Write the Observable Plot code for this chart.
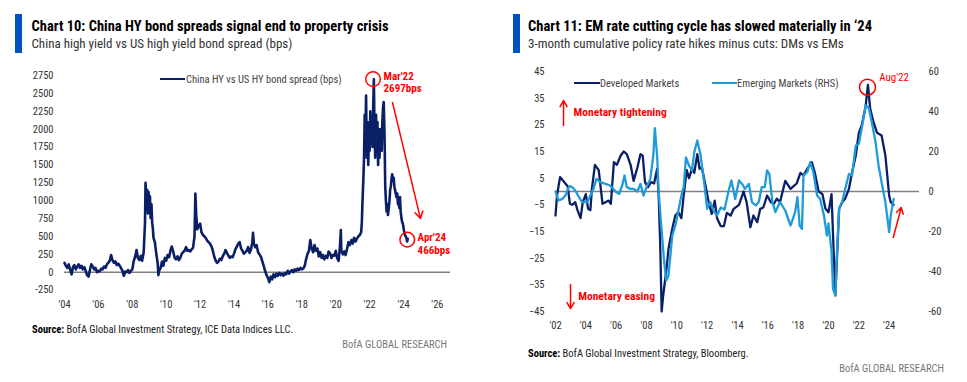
<!DOCTYPE html>
<html><head><meta charset="utf-8">
<script src="https://cdn.jsdelivr.net/npm/d3@7"></script>
<script src="https://cdn.jsdelivr.net/npm/@observablehq/plot@0.6"></script>
<style>
body{margin:0;background:#fff;width:967px;height:382px;position:relative;overflow:hidden}
#left{position:absolute;left:0;top:60px}
#right{position:absolute;left:490px;top:60px}
#overlay{position:absolute;left:0;top:0;pointer-events:none}
</style></head><body>
<div id="left"></div><div id="right"></div>
<svg id="overlay" width="967" height="382"></svg>
<script>
// ---------- DATA ----------
const chinaYears = [2004.00,2004.08,2004.17,2004.25,2004.33,2004.42,2004.50,2004.58,2004.67,2004.75,2004.83,2004.92,2005.00,2005.08,2005.17,2005.25,2005.33,2005.42,2005.50,2005.58,2005.67,2005.75,2005.83,2005.92,2006.00,2006.08,2006.17,2006.25,2006.33,2006.42,2006.50,2006.58,2006.67,2006.75,2006.83,2006.92,2007.00,2007.08,2007.17,2007.25,2007.33,2007.42,2007.50,2007.58,2007.67,2007.75,2007.83,2007.92,2008.00,2008.08,2008.17,2008.25,2008.33,2008.42,2008.50,2008.58,2008.67,2008.75,2008.78,2008.83,2008.88,2008.92,2008.96,2009.00,2009.04,2009.08,2009.13,2009.17,2009.21,2009.25,2009.33,2009.42,2009.50,2009.54,2009.58,2009.67,2009.75,2009.83,2009.92,2010.00,2010.08,2010.17,2010.25,2010.33,2010.42,2010.50,2010.58,2010.67,2010.75,2010.83,2010.92,2011.00,2011.08,2011.17,2011.25,2011.33,2011.42,2011.50,2011.58,2011.67,2011.72,2011.77,2011.83,2011.92,2012.00,2012.08,2012.17,2012.25,2012.33,2012.42,2012.50,2012.58,2012.67,2012.75,2012.83,2012.92,2013.00,2013.08,2013.17,2013.25,2013.33,2013.42,2013.50,2013.58,2013.67,2013.75,2013.83,2013.92,2014.00,2014.08,2014.17,2014.25,2014.33,2014.42,2014.50,2014.58,2014.67,2014.75,2014.83,2014.92,2015.00,2015.08,2015.12,2015.17,2015.25,2015.33,2015.42,2015.50,2015.58,2015.67,2015.75,2015.83,2015.92,2016.00,2016.08,2016.17,2016.25,2016.33,2016.42,2016.50,2016.58,2016.67,2016.75,2016.83,2016.92,2017.00,2017.08,2017.17,2017.25,2017.33,2017.42,2017.50,2017.58,2017.67,2017.75,2017.83,2017.92,2018.00,2018.08,2018.17,2018.25,2018.33,2018.42,2018.50,2018.58,2018.67,2018.75,2018.83,2018.92,2019.00,2019.08,2019.17,2019.25,2019.33,2019.42,2019.50,2019.58,2019.67,2019.75,2019.83,2019.92,2020.00,2020.08,2020.17,2020.25,2020.30,2020.33,2020.42,2020.50,2020.58,2020.67,2020.75,2020.83,2020.92,2021.00,2021.08,2021.17,2021.25,2021.33,2021.42,2021.50,2021.54,2021.58,2021.63,2021.67,2021.71,2021.75,2021.79,2021.83,2021.88,2021.92,2021.96,2022.00,2022.04,2022.08,2022.13,2022.17,2022.21,2022.25,2022.29,2022.33,2022.38,2022.42,2022.46,2022.50,2022.54,2022.58,2022.63,2022.67,2022.71,2022.75,2022.79,2022.83,2022.88,2022.92,2022.96,2023.00,2023.04,2023.08,2023.13,2023.17,2023.21,2023.25,2023.29,2023.33,2023.38,2023.42,2023.46,2023.50,2023.54,2023.58,2023.63,2023.67,2023.71,2023.75,2023.79,2023.83,2023.88,2023.92,2023.96,2024.00,2024.04,2024.08,2024.13,2024.17,2024.21,2024.25];
const chinaSpread = [130,90,60,110,40,-30,70,100,40,80,110,60,90,40,70,20,-40,-60,30,110,80,40,60,0,20,10,50,40,80,60,110,130,160,240,170,130,150,100,120,90,60,20,-50,10,0,30,-10,20,40,150,220,310,200,170,230,160,280,700,1250,1000,1150,820,1120,900,1060,760,950,700,620,480,420,250,120,-40,20,60,150,90,200,160,240,210,300,360,280,200,180,220,170,200,260,280,300,350,300,310,290,320,340,500,1100,800,600,650,680,560,520,500,480,440,420,400,360,300,220,160,130,150,190,170,220,260,310,270,230,200,220,210,260,320,360,400,420,330,300,260,280,300,350,270,320,420,550,400,350,380,280,250,220,150,90,20,-40,-80,-140,-60,-100,-30,-70,-20,-50,-10,-40,-20,-50,-10,-30,20,-20,10,30,0,40,20,50,30,60,40,50,90,180,250,300,450,330,280,380,300,330,220,280,200,240,180,230,200,290,260,200,240,230,300,200,160,360,590,300,250,290,240,330,420,380,450,400,480,430,470,500,520,560,700,1000,1300,1600,2200,1900,2470,1600,2100,1500,2000,1700,2250,1800,2100,1750,2300,2697,1900,1600,2200,1700,2100,1500,2000,1600,1900,2000,1700,2100,2300,2380,1900,1200,1000,850,950,800,900,1000,1150,1200,1300,1370,1280,1320,1200,1150,1100,1050,1100,950,1000,900,1050,850,750,700,680,620,560,520,500,480,430,466];

const dmYears = [2002.0,2002.1,2002.3,2002.5,2002.8,2002.95,2003.1,2003.3,2003.45,2003.65,2003.8,2004.0,2004.15,2004.3,2004.4,2004.6,2004.85,2005.1,2005.3,2005.5,2005.65,2005.85,2006.05,2006.3,2006.5,2006.7,2006.95,2007.15,2007.4,2007.6,2007.75,2007.9,2008.1,2008.3,2008.5,2008.7,2008.8,2008.9,2009.0,2009.1,2009.3,2009.45,2009.7,2009.9,2010.1,2010.3,2010.45,2010.65,2010.8,2011.0,2011.15,2011.35,2011.5,2011.65,2011.9,2012.1,2012.3,2012.5,2012.65,2012.9,2013.1,2013.3,2013.55,2013.75,2014.1,2014.4,2014.6,2014.85,2015.05,2015.3,2015.5,2015.7,2015.95,2016.2,2016.4,2016.6,2016.8,2017.15,2017.5,2017.7,2017.9,2018.15,2018.35,2018.6,2018.9,2019.1,2019.35,2019.6,2019.8,2020.0,2020.2,2020.35,2020.45,2020.55,2020.7,2020.9,2021.1,2021.35,2021.55,2021.8,2022.0,2022.2,2022.45,2022.6,2022.75,2022.97,2023.2,2023.5,2023.75,2024.0,2024.1,2024.3];
const dmValues = [-9,-1.5,5.4,4,2,-4.6,-5,-4,-7,-10,-4,-1,-6.5,-7,1,10,8,-4.6,-4,-3.4,-4.6,11,10,13.5,15,14,10,4,9,14,13.5,3.5,1.6,3.5,3,8.5,-1.5,-19,-45,-39,-30,-21.5,-14,-9,-7.8,-10,-1.5,8,5,8.5,7,14,8.5,9,2,-4,-8.4,-3.4,-10,-13,-13,-8,-9,-6.5,-5,0,-4,-13.4,-9,-11.5,-6.5,-6,-1.5,-4,-4.6,-2.7,-4,4,1,2,3,7,6,8.5,11,7,0,-1,-6.5,-7.8,-1,-24,-39,-26,-6.5,-4,-2.7,1,7,13.5,22,25,32,40,31,26,22,21,13.5,-1.5,-4,-5];

const emYears = [2002.0,2002.2,2002.45,2002.65,2002.9,2003.1,2003.3,2003.55,2003.75,2004.1,2004.3,2004.5,2004.7,2004.95,2005.3,2005.6,2006.0,2006.2,2006.4,2006.55,2006.7,2006.95,2007.15,2007.4,2007.6,2007.8,2008.0,2008.25,2008.45,2008.55,2008.7,2008.8,2008.95,2009.15,2009.3,2009.45,2009.7,2009.9,2010.1,2010.3,2010.45,2010.6,2010.8,2011.0,2011.15,2011.35,2011.55,2011.8,2012.0,2012.2,2012.45,2012.65,2012.9,2013.15,2013.4,2013.6,2013.85,2014.1,2014.3,2014.5,2014.75,2014.95,2015.2,2015.4,2015.6,2015.8,2015.95,2016.1,2016.3,2016.5,2016.8,2017.15,2017.5,2017.8,2017.95,2018.1,2018.25,2018.35,2018.6,2018.8,2019.0,2019.25,2019.45,2019.7,2019.9,2020.0,2020.2,2020.3,2020.45,2020.55,2020.7,2020.9,2021.1,2021.35,2021.55,2021.8,2022.0,2022.2,2022.45,2022.65,2022.85,2023.1,2023.3,2023.5,2023.75,2024.0,2024.1,2024.3];
const emValues = [0,-4.5,-3.7,-2,2.7,2.2,0.5,-2.8,-5.3,-5.3,-2,1.3,6.3,4.7,3.8,3,-0.3,-1.2,3,8,2.2,1.3,1.3,0,3.8,-2,2.2,6.3,18,31.7,18,0,-15,-33.7,-44.5,-42,-22,-17,-9.5,-2,2.2,17,13,10.5,19.7,25.5,18.8,4.7,-8.7,-5.3,-10,-12,-8,-9,0,5.5,-3.7,5.5,3.8,1.3,3.8,-5.3,-7,-5.3,2.2,2.2,10.5,8.8,-5.3,-10.3,-5.3,-9.5,-17,-10.3,-2.8,-17,-18.7,8,9.7,14.7,9.7,-2,-3.7,-12,-22,-16,-30,-48.7,-52,-32,-8.7,-5.3,1.3,8.8,8,23,23.8,32,43,42,34.7,24.7,13,4.7,-5.3,-20.3,-12,-3.7];

const leftYTicks = [-250,0,250,500,750,1000,1250,1500,1750,2000,2250,2500,2750];
const leftXTicks = [2004,2006,2008,2010,2012,2014,2016,2018,2020,2022,2024,2026];
const rightLTicks = [-45,-35,-25,-15,-5,5,15,25,35,45];
const rightRTicks = [-60,-40,-20,0,20,40,60];
const rightXTicks = [2002,2004,2006,2008,2010,2012,2014,2016,2018,2020,2022,2024];

// ---------- STYLE ----------
const F = "'Liberation Sans Narrow','Roboto Condensed','DejaVu Sans Condensed','Arial Narrow',sans-serif";
const NAVY = "#0A1F66", LIGHT = "#1E9BD8", RED = "#FF0000", GREY = "#808080";
const yr = d => "'" + String(d).slice(2);

// ---------- LEFT CHART ----------
const china = chinaYears.map((x, i) => ({x, v: chinaSpread[i]}));
const left = Plot.plot({
  width: 480, height: 255,
  marginLeft: 64, marginRight: 30, marginTop: 15, marginBottom: 25.4,
  style: {fontFamily: F, fontSize: "10.5px", color: "#333", background: "transparent"},
  x: {domain: [2004, 2026.77]},
  y: {domain: [-250, 2750]},
  marks: [
    Plot.axisY(leftYTicks, {tickSize: 0, tickPadding: 11, tickFormat: d => String(d), label: null}),
    Plot.axisX(leftXTicks, {tickSize: 0, tickPadding: 10, tickFormat: yr, label: null}),
    Plot.ruleY([0], {stroke: GREY, strokeWidth: 1.5}),
    Plot.line(china, {x: "x", y: "v", stroke: NAVY, strokeWidth: 2.6}),
    Plot.dot([{x: 2022.2, v: 2700}, {x: 2024.22, v: 455}], {x: "x", y: "v", r: 7.3, stroke: RED, strokeWidth: 1.5, fill: "none"}),
    Plot.arrow([{x1: 2023.35, y1: 2371, x2: 2025.0, y2: 750}], {x1: "x1", y1: "y1", x2: "x2", y2: "y2", stroke: RED, strokeWidth: 1.5, headLength: 8}),
    Plot.text([{x: 2022.82, v: 2663, t: "Mar'22\n2697bps"}, {x: 2024.83, v: 401, t: "Apr'24\n466bps"}],
      {x: "x", y: "v", text: "t", fill: RED, fontWeight: "bold", fontSize: 11, lineHeight: 1.12, textAnchor: "start"})
  ]
});
document.getElementById("left").append(left);

// ---------- RIGHT CHART ----------
const RATIO = 45 / 60;
const dm = dmYears.map((x, i) => ({x, v: dmValues[i]}));
const em = emYears.map((x, i) => ({x, v: emValues[i]}));
const right = Plot.plot({
  width: 477, height: 280,
  marginLeft: 65, marginRight: 48, marginTop: 11, marginBottom: 29,
  style: {fontFamily: F, fontSize: "10.5px", color: "#333", background: "transparent"},
  x: {domain: [2002, 2026]},
  y: {domain: [-45, 45]},
  marks: [
    Plot.axisY(rightLTicks, {anchor: "left", tickSize: 0, tickPadding: 11, label: null}),
    Plot.axisY(rightRTicks.map(t => t * RATIO), {anchor: "right", tickSize: 0, tickPadding: 9, tickFormat: d => Math.round(d / RATIO), label: null}),
    Plot.axisX(rightXTicks, {tickSize: 0, tickPadding: 10, tickFormat: yr, label: null}),
    Plot.ruleY([0], {stroke: GREY, strokeWidth: 1.5}),
    Plot.line(dm, {x: "x", y: "v", stroke: NAVY, strokeWidth: 2.3}),
    Plot.line(em, {x: "x", y: d => d.v * RATIO, stroke: LIGHT, strokeWidth: 2.3}),
    Plot.dot([{x: 2022.57, v: 39.1}], {x: "x", y: "v", r: 8, stroke: RED, strokeWidth: 1.5, fill: "none"}),
    Plot.text([{x: 2023.34, v: 42.75, t: "Aug'22"}], {x: "x", y: "v", text: "t", fill: RED, fontSize: 11, textAnchor: "start"}),
    Plot.arrow([{x1: 2002.53, y1: 24.75, x2: 2002.53, y2: 34.1}, {x1: 2002.99, y1: -34.9, x2: 2002.99, y2: -43.9}, {x1: 2024.27, y1: -17.25, x2: 2024.8, y2: -6}],
      {x1: "x1", y1: "y1", x2: "x2", y2: "y2", stroke: RED, strokeWidth: 1.5, headLength: 7}),
    Plot.text([{x: 2003.19, v: 29.6, t: "Monetary tightening"}, {x: 2003.5, v: -39.4, t: "Monetary easing"}],
      {x: "x", y: "v", text: "t", fill: RED, fontWeight: "bold", fontSize: 11.5, textAnchor: "start"})
  ]
});
document.getElementById("right").append(right);

// ---------- TITLES, LEGENDS, SOURCES ----------
const ov = d3.select("#overlay").style("font-family", F);
const BLUE = "#0052C4";
ov.append("rect").attr("x", 15).attr("y", 14).attr("width", 7).attr("height", 39).attr("fill", BLUE);
ov.append("rect").attr("x", 513).attr("y", 14).attr("width", 7).attr("height", 39).attr("fill", BLUE);
function txt(x, y, s, size, opts = {}) {
  return ov.append("text").attr("x", x).attr("y", y).attr("font-size", size)
    .attr("fill", opts.fill || "#222").attr("font-weight", opts.bold ? "bold" : null)
    .attr("text-anchor", opts.anchor || "start").text(s);
}
txt(31.5, 31, "Chart 10: China HY bond spreads signal end to property crisis", 14.5, {bold: true, fill: "#000"});
txt(31.5, 47.5, "China high yield vs US high yield bond spread (bps)", 13, {fill: "#333"});
txt(528, 31, "Chart 11: EM rate cutting cycle has slowed materially in \u201824", 14.5, {bold: true, fill: "#000"});
txt(528, 47.5, "3-month cumulative policy rate hikes minus cuts: DMs vs EMs", 13, {fill: "#333"});

// legends
ov.append("line").attr("x1", 160).attr("x2", 185).attr("y1", 79).attr("y2", 79).attr("stroke", NAVY).attr("stroke-width", 2);
txt(186, 82.5, "China HY vs US HY bond spread (bps)", 10.5, {fill: "#444"});
ov.append("line").attr("x1", 574).attr("x2", 600).attr("y1", 83).attr("y2", 83).attr("stroke", NAVY).attr("stroke-width", 2);
txt(600, 87, "Developed Markets", 10.5, {fill: "#444"});
ov.append("line").attr("x1", 712).attr("x2", 737).attr("y1", 83).attr("y2", 83).attr("stroke", LIGHT).attr("stroke-width", 2);
txt(737, 87, "Emerging Markets (RHS)", 10.5, {fill: "#444"});

// sources
const s1 = txt(32, 332.5, "", 10.5, {fill: "#222"});
s1.append("tspan").attr("font-weight", "bold").attr("fill", "#000").text("Source:");
s1.append("tspan").text(" BofA Global Investment Strategy, ICE Data Indices LLC.");
txt(447, 347.5, "BofA GLOBAL RESEARCH", 10.5, {fill: "#777", anchor: "end"});
const s2 = txt(528, 356.5, "", 10.5, {fill: "#222"});
s2.append("tspan").attr("font-weight", "bold").attr("fill", "#000").text("Source:");
s2.append("tspan").text(" BofA Global Investment Strategy, Bloomberg.");
txt(944, 371.5, "BofA GLOBAL RESEARCH", 10.5, {fill: "#777", anchor: "end"});
</script>
</body></html>
